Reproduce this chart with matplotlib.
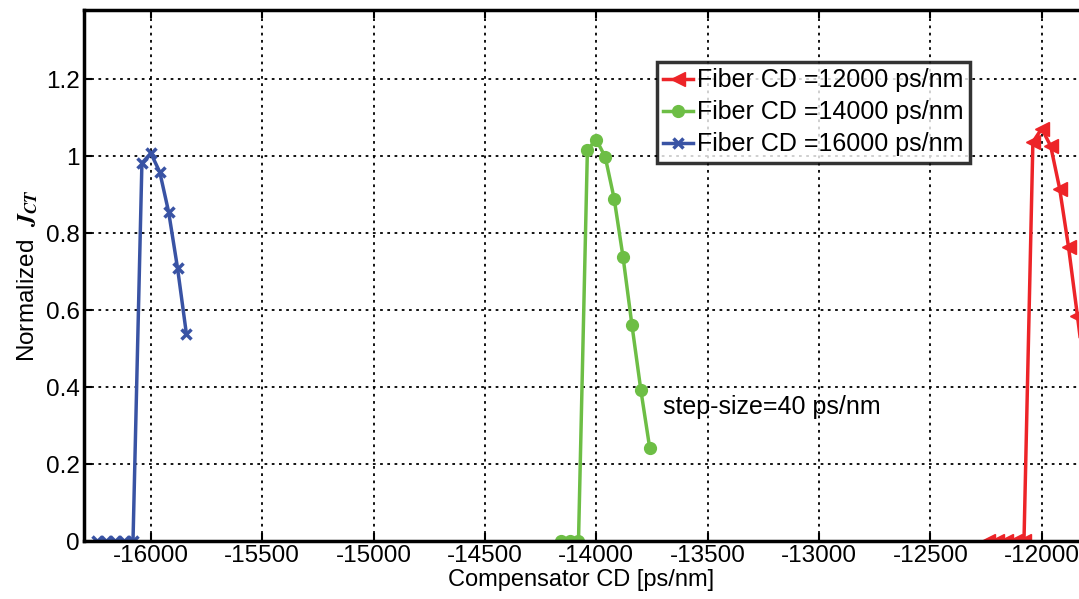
import matplotlib
matplotlib.use("Agg")
from matplotlib import pyplot as plt
from matplotlib.ticker import FormatStrFormatter

plt.rcParams['font.family'] = ['Liberation Sans', 'DejaVu Sans']
plt.rcParams['axes.unicode_minus'] = False
plt.rcParams['mathtext.fontset'] = 'stix'

# data
cd12_x = [-12240, -12200, -12160, -12120, -12080, -12040, -12000, -11960, -11920, -11880, -11840, -11800]
cd12_y = [0, 0, 0, 0, 0, 1.037, 1.072, 1.026, 0.916, 0.764, 0.585, 0.40]

cd14_x = [-14160, -14120, -14080, -14040, -14000, -13960, -13920, -13880, -13840, -13800, -13760]
cd14_y = [0, 0, 0, 1.017, 1.043, 0.998, 0.890, 0.738, 0.561, 0.392, 0.241]

cd16_x = [-16240, -16200, -16160, -16120, -16080, -16040, -16000, -15960, -15920, -15880, -15840]
cd16_y = [0, 0, 0, 0, 0, 0.982, 1.008, 0.959, 0.855, 0.709, 0.537]

labels = ["Fiber CD =12000 ps/nm", "Fiber CD =14000 ps/nm", "Fiber CD =16000 ps/nm"]
xticks = [-16000, -15500, -15000, -14500, -14000, -13500, -13000, -12500, -12000]
yticks = [0, 0.2, 0.4, 0.6, 0.8, 1.0, 1.2]

fig = plt.figure(figsize=(10.79, 5.99), dpi=100)
ax = fig.add_axes([84 / 1079, 58 / 599, (1079 - 84) / 1079, 531 / 599])

l1, = ax.plot(cd12_x, cd12_y, color='#ED2428', lw=2.5, marker='<', ms=10, label=labels[0])
l2, = ax.plot(cd14_x, cd14_y, color='#6DBE45', lw=2.5, marker='o', ms=8.5, label=labels[1])
l3, = ax.plot(cd16_x, cd16_y, color='#3953A4', lw=2.5, marker='x', ms=7, mew=2.5, label=labels[2])

ax.set_xlim(-16300, -11833)
ax.set_ylim(0, 1.38)
ax.set_xticks(xticks)
ax.set_yticks(yticks)
ax.yaxis.set_major_formatter(FormatStrFormatter('%g'))
ax.grid(True, color='black', linestyle=(0, (1.5, 2.5)), linewidth=1.3)
ax.tick_params(direction='in', top=True, right=False, length=6, width=1.5, labelsize=17.5, pad=3)
for s in ['left', 'bottom', 'top']:
    ax.spines[s].set_linewidth(2.5)
ax.spines['right'].set_visible(False)

ax.set_xlabel("Compensator CD [ps/nm]", fontsize=17, labelpad=1)
ax.set_ylabel(r"Normalized  $\mathbfit{J}_{\mathbfit{CT}}$", fontsize=17.5, labelpad=4)

ax.text(-13700, 0.348, "step-size=40 ps/nm", fontsize=18, va='center', ha='left')

leg = ax.legend(handles=[l1, l2, l3], loc='upper left',
                bbox_to_anchor=(657 / 1079, 1 - 62 / 599), bbox_transform=fig.transFigure,
                fontsize=18, frameon=True, fancybox=False, handlelength=1.2,
                handletextpad=0.15, borderpad=0.25, labelspacing=0.32, borderaxespad=0)
leg.get_frame().set_edgecolor('black')
leg.get_frame().set_linewidth(2.5)

fig.savefig("out.png", dpi=100)
